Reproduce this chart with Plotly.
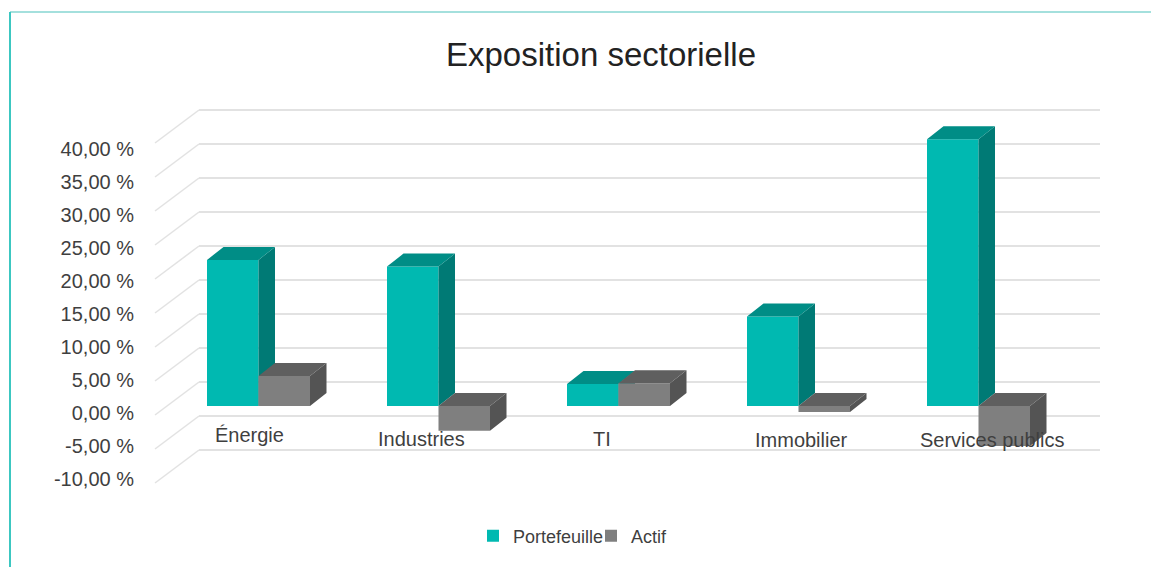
import plotly.graph_objects as go

categories = ["Énergie", "Industries", "TI", "Immobilier", "Services publics"]
portefeuille = [21.9, 20.9, 3.3, 13.4, 40.0]
actif = [4.5, -3.7, 3.4, -0.9, -6.0]
tick_values = [40, 35, 30, 25, 20, 15, 10, 5, 0, -5, -10]
tick_labels = ["40,00 %", "35,00 %", "30,00 %", "25,00 %", "20,00 %", "15,00 %",
               "10,00 %", "5,00 %", "0,00 %", "-5,00 %", "-10,00 %"]

W, H = 1151, 567
# plot area (pixels)
L, R, T, B = 155, 1100, 95, 495
STEP, X0 = 180.0, 258.5       # px per category, px of first category
BAR_U = 51.5 / STEP           # width of one bar in category units
DX_PX, DY_PX = 16.5, 13.0     # depth of the 3D boxes
K_BAR, Y0_BAR = 6.67, 406.0   # px per unit and px of zero, for the boxes
K_LAB, Y0_LAB = 6.60, 413.3   # same, for the tick labels (front plane)
K_WALL, Y0_WALL = 6.80, 382.0 # same, for the back wall
WALL_DX, WALL_DY = 44, 33

TEAL, TEAL_TOP, TEAL_SIDE = "#00B9B1", "#008D86", "#007A75"
GREY, GREY_TOP, GREY_SIDE = "#7F7F7F", "#5F5F5F", "#545454"
TEXT = "#3F3F3F"
FONT = "Liberation Sans"


def yrange(k, y0):
    return [(y0 - B) / k, (y0 - T) / k]


def px(x):
    return x / W


def py(y):
    return 1 - y / H


xr = [(L - X0) / STEP, (R - X0) / STEP]
du, dv = DX_PX / STEP, DY_PX / K_BAR

fig = go.Figure()

# keeps the labelled value axis alive; it carries no marks of its own
fig.add_trace(go.Scatter(x=[None], y=[None], yaxis="y", showlegend=False, hoverinfo="skip"))


def add_series(name, values, offset, front, top_c, side_c, yaxis, legend):
    idx = list(range(len(values)))
    fig.add_trace(go.Bar(x=idx, y=values, name=name, marker=dict(color=front, line_width=0),
                         offset=offset, width=BAR_U, yaxis=yaxis, hoverinfo="x+y", legend=legend))
    tx, ty, sx, sy = [], [], [], []
    for i, v in zip(idx, values):
        a, b = i + offset, i + offset + BAR_U
        hi, lo = max(v, 0), min(v, 0)
        tx += [a, a + du, b + du, b, a, None]
        ty += [hi, hi + dv, hi + dv, hi, hi, None]
        sx += [b, b + du, b + du, b, b, None]
        sy += [hi, hi + dv, lo + dv, lo, hi, None]
    for xs, ys, c in ((sx, sy, side_c), (tx, ty, top_c)):
        fig.add_trace(go.Scatter(x=xs, y=ys, mode="lines", fill="toself", fillcolor=c,
                                 line=dict(width=0, color=c), yaxis=yaxis,
                                 showlegend=False, hoverinfo="skip"))


add_series("Portefeuille", portefeuille, -BAR_U, TEAL, TEAL_TOP, TEAL_SIDE, "y2", "legend")
add_series("Actif", actif, 0.0, GREY, GREY_TOP, GREY_SIDE, "y3", "legend2")

shapes = []
for t in tick_values:
    yb = Y0_WALL - K_WALL * t
    shapes.append(dict(type="line", xref="paper", yref="paper", layer="below",
                       x0=px(L + WALL_DX), x1=px(R), y0=py(yb), y1=py(yb),
                       line=dict(color="#E2E2E2", width=2)))
    shapes.append(dict(type="line", xref="paper", yref="paper", layer="below",
                       x0=px(L), x1=px(L + WALL_DX), y0=py(yb + WALL_DY), y1=py(yb),
                       line=dict(color="#E2E2E2", width=1.5)))
# page frame
shapes.append(dict(type="line", xref="paper", yref="paper", layer="below",
                   x0=px(10), x1=1, y0=py(12), y1=py(12), line=dict(color="#86D6D2", width=1.5)))
shapes.append(dict(type="line", xref="paper", yref="paper", layer="below",
                   x0=px(10), x1=px(10), y0=py(12), y1=0, line=dict(color="#3CC7C1", width=2)))

label_shift = [-9, -17, -17, 3, 14]
label_y = [435, 439, 439, 440, 440]
annotations = [dict(text="Exposition sectorielle", xref="paper", yref="paper",
                    x=px(601), y=py(54), xanchor="center", yanchor="middle", showarrow=False,
                    font=dict(family=FONT, size=33, color="#222222"))]
for i, c in enumerate(categories):
    annotations.append(dict(text=c, xref="x", yref="paper", x=i, xshift=label_shift[i],
                            y=py(label_y[i]), xanchor="center", yanchor="middle",
                            showarrow=False, font=dict(family=FONT, size=20, color=TEXT)))

hidden_y = dict(overlaying="y", range=yrange(K_BAR, Y0_BAR), visible=False, anchor="x",
                domain=[py(B), py(T)])

legend_common = dict(orientation="h", yanchor="middle", xanchor="left", y=py(536),
                     font=dict(family=FONT, size=18, color=TEXT), bgcolor="rgba(0,0,0,0)",
                     itemwidth=30)

fig.update_layout(
    width=W, height=H, autosize=False,
    margin=dict(l=0, r=0, t=0, b=0),
    paper_bgcolor="white", plot_bgcolor="rgba(0,0,0,0)",
    font=dict(family=FONT, color=TEXT),
    xaxis=dict(domain=[px(L), px(R)], range=xr, visible=False, fixedrange=True),
    yaxis=dict(domain=[py(B), py(T)], range=yrange(K_LAB, Y0_LAB), tickvals=tick_values,
               ticktext=tick_labels, showgrid=False, zeroline=False, showline=False,
               ticks="", ticklabelstandoff=20, tickfont=dict(family=FONT, size=20, color=TEXT),
               fixedrange=True),
    yaxis2=hidden_y,
    yaxis3=hidden_y,
    shapes=shapes,
    annotations=annotations,
    showlegend=True,
    legend=dict(x=px(473), **legend_common),
    legend2=dict(x=px(591), **legend_common),
)

fig.write_html("out.html", config=dict(displayModeBar=False),
               post_script="document.body.style.margin='0';")
